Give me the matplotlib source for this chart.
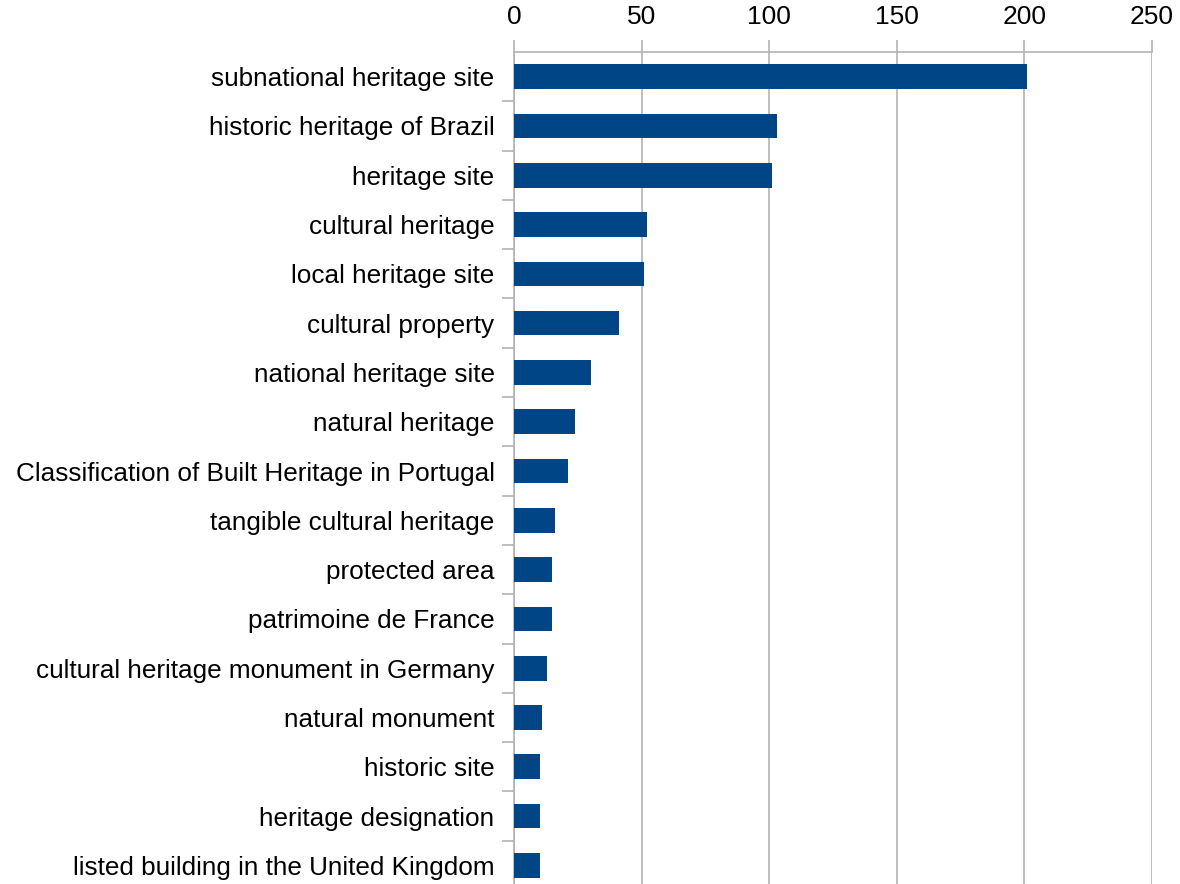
import numpy as np
import matplotlib
matplotlib.use('Agg')
import matplotlib.pyplot as plt

plt.rcParams['font.family'] = ['Liberation Sans', 'DejaVu Sans']

labels = ['subnational heritage site', 'historic heritage of Brazil', 'heritage site',
          'cultural heritage', 'local heritage site', 'cultural property',
          'national heritage site', 'natural heritage',
          'Classification of Built Heritage in Portugal', 'tangible cultural heritage',
          'protected area', 'patrimoine de France',
          'cultural heritage monument in Germany', 'natural monument', 'historic site',
          'heritage designation', 'listed building in the United Kingdom']
counts = [201, 103, 101, 52, 51, 41, 30, 24, 21, 16, 15, 15, 13, 11, 10, 10, 10]
xticks = [0, 50, 100, 150, 200, 250]

grey = '#b3b3b3'

fig = plt.figure(figsize=(11.8, 8.84), dpi=100)
ax = fig.add_axes([514/1180, 1 - 890/884, 638/1180, 838/884])

pos = np.arange(len(labels))
ax.barh(pos, counts, height=0.5, color='#004586', zorder=3)

ax.set_xlim(0, 250)
ax.set_ylim(len(labels) - 0.5, -0.5)
ax.set_xticks(xticks)
ax.xaxis.tick_top()
ax.grid(axis='x', color=grey, linewidth=1.2, zorder=0)
ax.tick_params(axis='x', colors=grey, labelcolor='black', labelsize=19,
               direction='out', length=8.6, width=1.2, pad=8)

ax.set_yticks(pos)
ax.set_yticklabels(labels)
ax.set_yticks(np.arange(len(labels) - 1) + 0.5, minor=True)
ax.tick_params(axis='y', which='major', length=0, labelsize=18.8, pad=14)
ax.tick_params(axis='y', which='minor', colors=grey, length=9, width=1.2)

for s in ['right', 'bottom']:
    ax.spines[s].set_visible(False)
for s in ['top', 'left']:
    ax.spines[s].set_color(grey)
    ax.spines[s].set_linewidth(1.2)

fig.savefig('out.png', dpi=100)
